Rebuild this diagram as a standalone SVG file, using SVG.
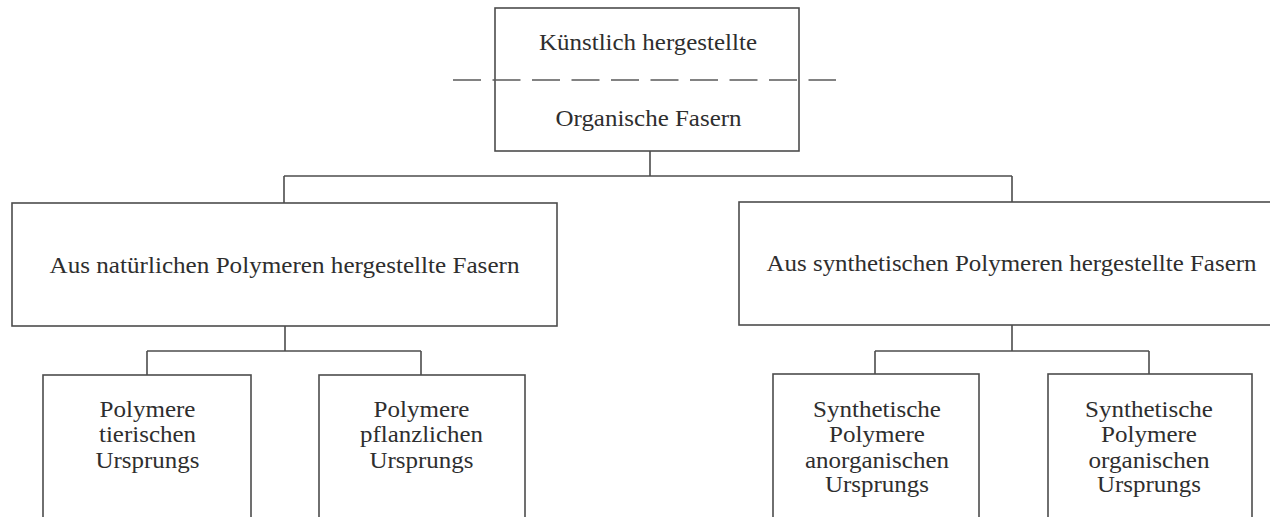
<svg xmlns="http://www.w3.org/2000/svg" width="1270" height="517" viewBox="0 0 1270 517">
<style>
.box{fill:#ffffff;stroke:#4d4d4d;stroke-width:1.6}
.con{fill:none;stroke:#4d4d4d;stroke-width:1.6}
.dash{fill:none;stroke:#5a5a5a;stroke-width:1.6;stroke-dasharray:28 11.5}
text{font-family:"Liberation Serif","Times New Roman",serif;font-size:23px;fill:#2e2e2e;text-anchor:middle}
</style>
<rect x="0" y="0" width="1270" height="517" fill="#ffffff"/>
<g id="connectors">
<path class="con" d="M650 151V176M284 176H1012M284 176V203M1012 176V202"/>
<path class="con" d="M285 326V351M147 351H421M147 351V375M421 351V375"/>
<path class="con" d="M1012 325V351M875 351H1149M875 351V374M1149 351V374"/>
</g>
<g id="root">
<rect class="box" x="495" y="8" width="304" height="143"/>
<line class="dash" x1="453" y1="80" x2="836" y2="80"/>
<text x="648" y="50" textLength="218" lengthAdjust="spacingAndGlyphs">Künstlich hergestellte</text>
<text x="648.5" y="126" textLength="186" lengthAdjust="spacingAndGlyphs">Organische Fasern</text>
</g>
<g id="natural">
<rect class="box" x="12" y="203" width="545" height="123"/>
<text x="284.5" y="273" textLength="470" lengthAdjust="spacingAndGlyphs">Aus natürlichen Polymeren hergestellte Fasern</text>
</g>
<g id="synthetic">
<rect class="box" x="739" y="202" width="534" height="123"/>
<text x="1011.5" y="271" textLength="490" lengthAdjust="spacingAndGlyphs">Aus synthetischen Polymeren hergestellte Fasern</text>
</g>
<g id="animal">
<rect class="box" x="43" y="375" width="208" height="150"/>
<text x="147.5" y="417" textLength="96" lengthAdjust="spacingAndGlyphs">Polymere</text>
<text x="147.5" y="442" textLength="97" lengthAdjust="spacingAndGlyphs">tierischen</text>
<text x="147.5" y="468" textLength="104" lengthAdjust="spacingAndGlyphs">Ursprungs</text>
</g>
<g id="plant">
<rect class="box" x="319" y="375" width="206" height="150"/>
<text x="421.5" y="417" textLength="96" lengthAdjust="spacingAndGlyphs">Polymere</text>
<text x="421.5" y="442" textLength="123" lengthAdjust="spacingAndGlyphs">pflanzlichen</text>
<text x="421.5" y="468" textLength="104" lengthAdjust="spacingAndGlyphs">Ursprungs</text>
</g>
<g id="inorganic">
<rect class="box" x="773" y="374" width="206" height="150"/>
<text x="877" y="417" textLength="128" lengthAdjust="spacingAndGlyphs">Synthetische</text>
<text x="877" y="442" textLength="96" lengthAdjust="spacingAndGlyphs">Polymere</text>
<text x="877" y="468" textLength="144" lengthAdjust="spacingAndGlyphs">anorganischen</text>
<text x="877" y="492" textLength="104" lengthAdjust="spacingAndGlyphs">Ursprungs</text>
</g>
<g id="organic">
<rect class="box" x="1048" y="374" width="204" height="150"/>
<text x="1149" y="417" textLength="128" lengthAdjust="spacingAndGlyphs">Synthetische</text>
<text x="1149" y="442" textLength="96" lengthAdjust="spacingAndGlyphs">Polymere</text>
<text x="1149" y="468" textLength="121" lengthAdjust="spacingAndGlyphs">organischen</text>
<text x="1149" y="492" textLength="104" lengthAdjust="spacingAndGlyphs">Ursprungs</text>
</g>
</svg>
